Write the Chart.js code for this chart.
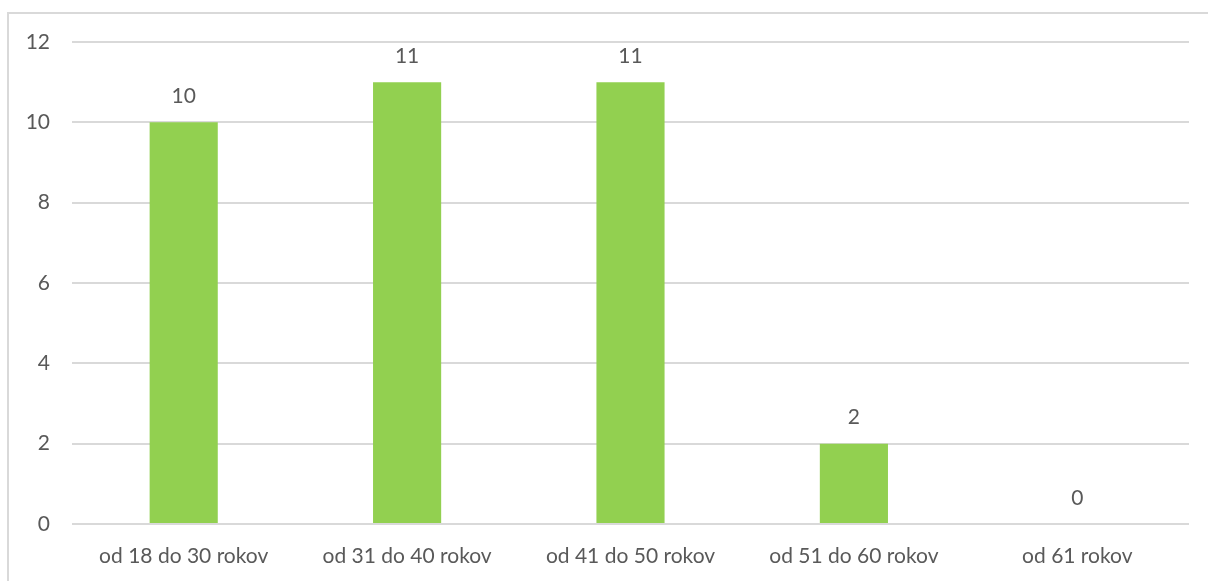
<!DOCTYPE html>
<html>
<head>
<meta charset="utf-8">
<script src="https://cdn.jsdelivr.net/npm/chart.js@4/dist/chart.umd.min.js"></script>
<style>
  html, body { margin: 0; padding: 0; background: #fff; overflow: hidden; }
  #wrap { position: relative; width: 1208px; height: 581px; }
  #frame { position: absolute; left: 7px; top: 12px; width: 1300px; height: 700px; border: 2px solid #d9d9d9; box-sizing: border-box; }
  #c { position: absolute; left: 0; top: 0; }
</style>
</head>
<body>
<div id="wrap">
  <div id="frame"></div>
  <canvas id="c" width="1208" height="581"></canvas>
</div>
<script>
const categories = ["od 18 do 30 rokov", "od 31 do 40 rokov", "od 41 do 50 rokov", "od 51 do 60 rokov", "od 61 rokov"];
const values = [10, 11, 11, 2, 0];
const yTicks = [0, 2, 4, 6, 8, 10, 12];

const FONT = "Lato, 'Open Sans', sans-serif";
const TEXT = "#595959";
const FS = 21;

const labelPlugin = {
  id: 'barLabels',
  afterDatasetsDraw(chart) {
    const ctx = chart.ctx;
    const meta = chart.getDatasetMeta(0);
    ctx.save();
    ctx.font = FS + "px " + FONT;
    ctx.fillStyle = TEXT;
    ctx.textAlign = 'center';
    ctx.textBaseline = 'middle';
    meta.data.forEach((bar, i) => {
      ctx.fillText(String(values[i]), bar.x, bar.y - 26);
    });
    ctx.restore();
  }
};

new Chart(document.getElementById('c'), {
  type: 'bar',
  data: {
    labels: categories,
    datasets: [{
      data: values,
      backgroundColor: '#92D050',
      borderWidth: 0,
      barPercentage: 0.305,
      categoryPercentage: 1.0
    }]
  },
  options: {
    responsive: false,
    animation: false,
    devicePixelRatio: 1,
    layout: { padding: { top: 42, right: 19, left: 0, bottom: 0 } },
    plugins: { legend: { display: false }, tooltip: { enabled: false } },
    scales: {
      x: {
        grid: { display: false, drawTicks: false },
        border: { display: false },
        ticks: { color: TEXT, font: { family: FONT, size: FS }, padding: 20, maxRotation: 0 },
        afterFit(scale) { scale.height = 57; }
      },
      y: {
        min: 0, max: 12,
        afterBuildTicks(scale) { scale.ticks = yTicks.map(v => ({ value: v })); },
        grid: { color: '#d9d9d9', lineWidth: 2, drawTicks: false },
        border: { display: false },
        ticks: { color: TEXT, font: { family: FONT, size: FS }, padding: 22 },
        afterFit(scale) { scale.width = 72; }
      }
    }
  },
  plugins: [labelPlugin]
});
</script>
</body>
</html>
